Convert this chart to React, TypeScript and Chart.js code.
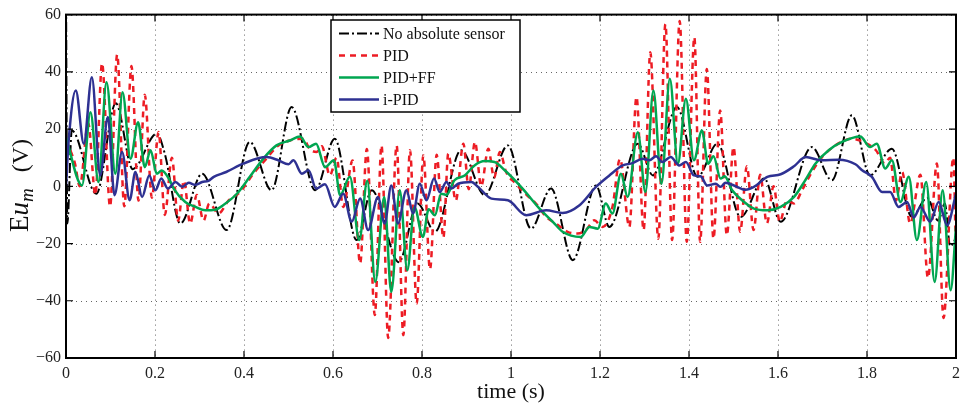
import React, { useEffect, useRef } from "react";
import { Chart, registerables } from "chart.js";

Chart.register(...registerables);

// ---------- data ----------
const xTicks = [0, 0.2, 0.4, 0.6, 0.8, 1, 1.2, 1.4, 1.6, 1.8, 2];
const yTicks = [-60, -40, -20, 0, 20, 40, 60];
const legendLabels = ["No absolute sensor", "PID", "PID+FF", "i-PID"];

// No absolute sensor (black dash-dot)
const tNoSensor = [0, 0.003, 0.013, 0.068, 0.112, 0.150, 0.204, 0.222, 0.257, 0.306, 0.361, 0.413, 0.462, 0.507, 0.560, 0.604, 0.653, 0.687, 0.748, 0.790, 0.829, 0.888, 0.941, 0.993, 1.045, 1.090, 1.139, 1.191, 1.221, 1.285, 1.319, 1.373, 1.419, 1.464, 1.516, 1.569, 1.606, 1.676, 1.721, 1.766, 1.807, 1.856, 1.901, 1.935, 1.960, 1.975, 1.987, 2.0];
const vNoSensor = [70, -13, 19.5, -2.6, 29, 6, 18.4, 11.4, -13, 4.4, -15.3, 15.5, -1.4, 27.7, -1.4, 16.6, -18.8, -1.4, -26.5, -6, -15.9, 12.6, -3.1, 14.3, -14.8, -0.8, -25.8, 0.3, -14.2, 14.9, 3.8, 27.7, 3.3, 14.9, -10.7, 2.7, -12.4, 13.7, 2.1, 24.8, 3.8, 13.1, -10.7, -4, -12, -6, -21, -18];

// PID (red dashed)
const tPID = [0, 0.02, 0.031, 0.05, 0.066, 0.081, 0.099, 0.115, 0.131, 0.147,
  0.163, 0.177, 0.193, 0.208, 0.222, 0.238, 0.252, 0.265, 0.279, 0.294,
  0.309, 0.322, 0.343, 0.365, 0.391, 0.421, 0.45, 0.475, 0.503, 0.533,
  0.548, 0.563, 0.575, 0.593, 0.608, 0.623, 0.644, 0.661, 0.676, 0.694,
  0.709, 0.724, 0.743, 0.758, 0.773, 0.788, 0.803, 0.818, 0.833, 0.848,
  0.859, 0.876, 0.893, 0.905, 0.919, 0.933, 0.949, 0.962, 0.975, 0.989,
  1.011, 1.035, 1.056, 1.079, 1.101, 1.127, 1.15, 1.17, 1.187, 1.206,
  1.228, 1.245, 1.266, 1.282, 1.298, 1.313, 1.331, 1.347, 1.362, 1.379,
  1.395, 1.412, 1.425, 1.44, 1.455, 1.47, 1.485, 1.5, 1.515, 1.53,
  1.545, 1.56, 1.575, 1.59, 1.604, 1.62, 1.636, 1.654, 1.676, 1.699,
  1.729, 1.766, 1.792, 1.82, 1.84, 1.852, 1.865, 1.879, 1.897, 1.92,
  1.937, 1.957, 1.972, 1.994, 2.0];
const vPID = [16, 8, 0, 22, -3, 43, -7, 46, -7, 42,
  -5, 32, -4, 19, -10, 10, -12, 2, -13, -3,
  -12, -6, -9.5, -5, -2, 4.4, 9.6, 14, 16, 16.6,
  13, 12, 14, 3.8, 10, -7.2, 9, -27, 13, -45,
  14.3, -53, 14.3, -52, 12.6, -41, 10.8, -29, 11, -18,
  11.4, -5, 14.9, -1, 15.5, 0, 13.1, 3, 12, 5,
  0.9, -3, -6, -10.7, -13, -15.9, -16.5, -15, -11.9, -14.2,
  -7.2, 9.6, -14.2, 31.2, -15.3, 46.8, -18.3, 56.7, -18.8, 57.8,
  -19.4, 52.1, -19.4, 41, -18.3, 26.5, -17.1, 13.7, -15.9, 7,
  -15.3, 4, -13, 0, -12.4, -5, -6, -1.4, 5, 10.2,
  14.3, 16.6, 15.5, 12.6, 8, 10, -5, 5, -13, 4,
  -32, 8, -46, 10, -25];

// PID+FF (green solid)
const tPIDFF = [0, 0.036, 0.055, 0.073, 0.091, 0.111, 0.127, 0.145, 0.162, 0.177,
  0.190, 0.204, 0.215, 0.231, 0.242, 0.268, 0.291, 0.313, 0.335, 0.353,
  0.384, 0.413, 0.443, 0.473, 0.503, 0.526, 0.545, 0.562, 0.582, 0.602,
  0.616, 0.638, 0.659, 0.677, 0.695, 0.715, 0.731, 0.750, 0.767, 0.783,
  0.802, 0.815, 0.829, 0.843, 0.855, 0.873, 0.896, 0.918, 0.941, 0.963,
  0.986, 1.026, 1.064, 1.094, 1.116, 1.157, 1.176, 1.195, 1.213, 1.228,
  1.247, 1.262, 1.285, 1.302, 1.320, 1.338, 1.357, 1.375, 1.393, 1.411,
  1.429, 1.443, 1.455, 1.471, 1.480, 1.497, 1.524, 1.546, 1.576, 1.606,
  1.636, 1.662, 1.684, 1.714, 1.744, 1.785, 1.807, 1.822, 1.841, 1.856,
  1.875, 1.894, 1.912, 1.933, 1.952, 1.970, 1.988, 2.0];
const vPIDFF = [17, 0.3, 25.9, 1.5, 36.4, 4.4, 32.9, 9.6, 22.4, 6.7,
  12.6, 4.4, 5.5, 2.7, -0.8, -5.5, -7.2, -8.4, -8.2, -6.6,
  -2.6, 3.3, 9.6, 14.3, 16, 17.4, 13.7, 14.9, 6.7, 9.1,
  -3.1, 3.3, -18.8, 1.9, -33.4, -3.7, -36.9, -1.4, -29.3, -7.2,
  -17.7, -8, -10.1, -2.6, -3, 2.1, 3.8, 7.3, 8.8, 8.5,
  5.6, -0.8, -7.8, -12.4, -15.9, -17.7, -14.2, -14.8, -6.0, -9.5,
  4.4, -3.7, 18.9, -2, 33.5, 0.9, 37.6, 7.9, 30.6, 9.1,
  19.5, 7.9, 10.5, 2.7, 3.5, -1.4, -5.5, -7.8, -8.4, -7.2,
  -3.7, 2.3, 7.9, 12.6, 15.5, 17.4, 13.7, 14.9, 6.2, 9.1,
  -5.5, 3.3, -18.8, 1.5, -33.4, -1.4, -36.3, -14.2];

// i-PID (blue solid)
const tIPID = [0, 0.006, 0.022, 0.040, 0.058, 0.077, 0.094, 0.109, 0.126, 0.143,
  0.156, 0.171, 0.187, 0.201, 0.214, 0.229, 0.246, 0.261, 0.276, 0.29,
  0.306, 0.32, 0.332, 0.36, 0.398, 0.451, 0.477, 0.5, 0.511, 0.530,
  0.545, 0.562, 0.582, 0.604, 0.623, 0.642, 0.661, 0.679, 0.701, 0.716,
  0.731, 0.746, 0.765, 0.780, 0.795, 0.810, 0.827, 0.840, 0.855, 0.866,
  0.881, 0.911, 0.926, 0.956, 0.993, 1.034, 1.079, 1.116, 1.154, 1.191,
  1.221, 1.251, 1.273, 1.296, 1.311, 1.326, 1.340, 1.359, 1.378, 1.393,
  1.411, 1.426, 1.441, 1.460, 1.471, 1.482, 1.501, 1.527, 1.546, 1.576,
  1.606, 1.636, 1.662, 1.699, 1.736, 1.774, 1.789, 1.811, 1.834, 1.852,
  1.871, 1.890, 1.905, 1.920, 1.942, 1.961, 1.980, 2.0];
const vIPID = [0, 16, 33.5, 14.9, 38.1, 3.8, 24.2, -3.1, 12, -4.9,
  5, -3.7, 3.8, -1.4, 2.7, -0.8, 1.5, -0.2, 1.2, 0.5,
  1.5, 1.9, 3.3, 5, 7.9, 10.2, 9.1, 7.7, 9.1, 4.4,
  5.6, -0.8, 0.7, -7.2, -2.6, -12.4, -4.3, -15.3, -3.7, -13,
  0.3, -13, -1.4, -9.5, 0.9, -4.9, 2.7, -2, 1.5, -0.8,
  0.9, 1.5, -0.2, -4.3, -4.9, -10.1, -8.4, -9.3, -6.6, -0.2,
  3.8, 7.3, 8.1, 9.6, 9.1, 10.5, 8.5, 10.2, 7.3, 8.5,
  3.8, 3.5, 0.3, 0.9, -0.2, 1.2, 0.3, -1.2, -0.2, 3.3,
  4.2, 7, 10.2, 9.1, 9.3, 7.7, 5.6, 3.3, -2, -2,
  -7.2, -5.5, -10.9, -7.2, -12.4, -5.5, -13.6, -2.6];

// ---------- styles ----------
const FONT = "'Liberation Serif', 'Times New Roman', serif";
const COLORS = ["#000000", "#ED1C24", "#00A651", "#2E3192"];
const DASHES: number[][] = [[10, 3, 2, 3], [6, 5], [], []];
const WIDTHS = [2, 2.5, 2.5, 2.5];

const pts = (t: number[], v: number[]) => t.map((x, i) => ({ x, y: v[i] }));
const fmtNum = (v: number) => {
  const s = String(Number(Number(v).toFixed(1)));
  return s.replace("-", "\u2212");
};

const decorPlugin = {
  id: "decor",
  beforeDatasetsDraw(chart: any) {
    const { ctx, chartArea: a, scales } = chart;
    const x = scales.x, y = scales.y;
    ctx.save();
    ctx.strokeStyle = "#666";
    ctx.lineWidth = 1;
    ctx.setLineDash([1, 4]);
    xTicks.forEach((v) => {
      const px = Math.round(x.getPixelForValue(v)) + 0.5;
      ctx.beginPath();
      ctx.moveTo(px, a.top);
      ctx.lineTo(px, a.bottom);
      ctx.stroke();
    });
    yTicks.forEach((v) => {
      const py = Math.round(y.getPixelForValue(v)) + 0.5;
      ctx.beginPath();
      ctx.moveTo(a.left, py);
      ctx.lineTo(a.right, py);
      ctx.stroke();
    });
    ctx.restore();
  },
  afterDatasetsDraw(chart: any) {
    const { ctx, chartArea: a, scales } = chart;
    const x = scales.x, y = scales.y;
    ctx.save();
    // frame
    ctx.setLineDash([]);
    ctx.strokeStyle = "#000";
    ctx.lineWidth = 2;
    ctx.strokeRect(a.left, a.top, a.right - a.left, a.bottom - a.top);
    // inward ticks on all sides
    const TL = 7;
    ctx.lineWidth = 1.2;
    xTicks.forEach((v) => {
      const px = x.getPixelForValue(v);
      ctx.beginPath();
      ctx.moveTo(px, a.bottom);
      ctx.lineTo(px, a.bottom - TL);
      ctx.moveTo(px, a.top);
      ctx.lineTo(px, a.top + TL);
      ctx.stroke();
    });
    yTicks.forEach((v) => {
      const py = y.getPixelForValue(v);
      ctx.beginPath();
      ctx.moveTo(a.left, py);
      ctx.lineTo(a.left + TL, py);
      ctx.moveTo(a.right, py);
      ctx.lineTo(a.right - TL, py);
      ctx.stroke();
    });

    // legend
    const lx = 331, ly = 20, lw = 189, lh = 92;
    ctx.fillStyle = "#fff";
    ctx.fillRect(lx, ly, lw, lh);
    ctx.lineWidth = 1.5;
    ctx.strokeStyle = "#000";
    ctx.strokeRect(lx, ly, lw, lh);
    ctx.font = `16px ${FONT}`;
    ctx.textBaseline = "middle";
    ctx.textAlign = "left";
    legendLabels.forEach((lab, i) => {
      const yy = 33.5 + i * 22;
      ctx.strokeStyle = COLORS[i];
      ctx.lineWidth = WIDTHS[i];
      ctx.setLineDash(DASHES[i]);
      ctx.beginPath();
      ctx.moveTo(339, yy);
      ctx.lineTo(379, yy);
      ctx.stroke();
      ctx.setLineDash([]);
      ctx.fillStyle = "#111";
      ctx.fillText(lab, 383, yy + 1);
    });

    // x title
    ctx.fillStyle = "#111";
    ctx.textAlign = "center";
    ctx.textBaseline = "alphabetic";
    ctx.font = `22px ${FONT}`;
    ctx.fillText("time (s)", (a.left + a.right) / 2, 398);

    // y title: E u_m (V), rotated
    ctx.translate(28, 232);
    ctx.rotate(-Math.PI / 2);
    ctx.textAlign = "left";
    let cx = 0;
    ctx.font = `27px ${FONT}`;
    ctx.fillText("E", cx, 0);
    cx += ctx.measureText("E").width;
    ctx.font = `italic 27px ${FONT}`;
    ctx.fillText("u", cx, 0);
    cx += ctx.measureText("u").width;
    ctx.font = `italic 19px ${FONT}`;
    ctx.fillText("m", cx, 5);
    cx += ctx.measureText("m").width + 16;
    ctx.font = `24px ${FONT}`;
    ctx.fillText("(V)", cx, 0);
    ctx.restore();
  },
};

export default function App() {
  const ref = useRef<HTMLCanvasElement | null>(null);
  useEffect(() => {
    if (!ref.current) return;
    const series = [
      pts(tNoSensor, vNoSensor),
      pts(tPID, vPID),
      pts(tPIDFF, vPIDFF),
      pts(tIPID, vIPID),
    ];
    const chart = new Chart(ref.current, {
      type: "line",
      data: {
        datasets: series.map((d, i) => ({
          label: legendLabels[i],
          data: d,
          borderColor: COLORS[i],
          borderWidth: WIDTHS[i],
          borderDash: DASHES[i],
          pointRadius: 0,
          fill: false,
          cubicInterpolationMode: "monotone" as const,
          order: 4 - i,
        })),
      },
      options: {
        responsive: false,
        animation: false,
        devicePixelRatio: 1,
        layout: { padding: { top: 14, right: 12, left: 0, bottom: 0 } },
        plugins: { legend: { display: false }, tooltip: { enabled: false } },
        scales: {
          x: {
            type: "linear",
            min: 0,
            max: 2,
            afterFit: (s: any) => { s.height = 50; },
            afterBuildTicks: (s: any) => { s.ticks = xTicks.map((v) => ({ value: v })); },
            grid: { display: false, drawTicks: false },
            border: { display: false },
            ticks: {
              padding: 6,
              autoSkip: false,
              maxRotation: 0,
              color: "#222",
              font: { family: FONT, size: 16 },
              callback: (v: any) => fmtNum(v),
            },
          },
          y: {
            type: "linear",
            min: -60,
            max: 60,
            afterFit: (s: any) => { s.width = 66; },
            afterBuildTicks: (s: any) => { s.ticks = yTicks.map((v) => ({ value: v })); },
            grid: { display: false, drawTicks: false },
            border: { display: false },
            ticks: {
              padding: 5,
              color: "#222",
              font: { family: FONT, size: 16 },
              callback: (v: any) => fmtNum(v),
            },
          },
        },
      },
      plugins: [decorPlugin],
    } as any);
    return () => chart.destroy();
  }, []);
  return (
    <div style={{ position: "fixed", left: 0, top: 0, width: 968, height: 408, background: "#fff" }}>
      <canvas ref={ref} width={968} height={408} style={{ display: "block", width: 968, height: 408 }} />
    </div>
  );
}
